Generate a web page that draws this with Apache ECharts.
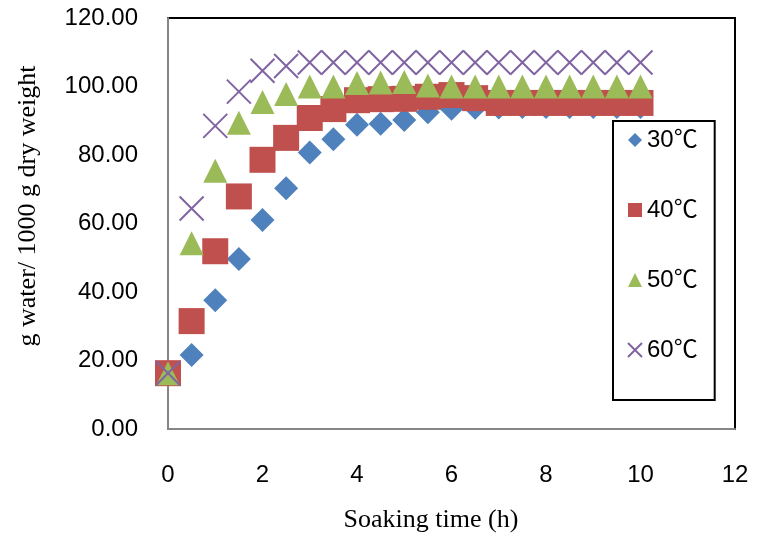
<!DOCTYPE html>
<html>
<head>
<meta charset="utf-8">
<script src="https://cdn.jsdelivr.net/npm/echarts@6/dist/echarts.min.js"></script>
<style>
html,body{margin:0;padding:0;background:#fff;}
#chart{width:757px;height:538px;}
</style>
</head>
<body>
<div id="chart"></div>
<script>
// Soaking time (h)
var times = [0, 0.5, 1, 1.5, 2, 2.5, 3, 3.5, 4, 4.5, 5, 5.5, 6, 6.5, 7, 7.5, 8, 8.5, 9, 9.5, 10];
var seriesNames = ['30℃', '40℃', '50℃', '60℃'];
var t30 = [16.3, 21.6, 37.6, 49.6, 61.0, 70.3, 80.7, 84.6, 88.8, 89.1, 90.2, 92.5, 93.5, 93.8, 93.9, 94.0, 94.0, 94.0, 94.0, 94.0, 94.0];
var t40 = [16.3, 31.5, 51.9, 67.9, 78.6, 85.0, 90.8, 93.4, 96.0, 96.3, 96.4, 97.0, 97.5, 96.6, 95.2, 95.2, 95.2, 95.2, 95.2, 95.2, 95.2];
var t50 = [16.3, 54.2, 75.4, 89.4, 95.5, 97.8, 100.0, 100.0, 101.0, 101.2, 101.3, 100.3, 100.0, 100.0, 100.0, 100.0, 100.0, 100.0, 100.0, 100.0, 100.0];
var t60 = [16.3, 64.4, 88.5, 98.5, 104.6, 106.0, 107.0, 107.0, 107.0, 107.0, 107.0, 107.0, 107.0, 107.0, 107.0, 107.0, 107.0, 107.0, 107.0, 107.0, 107.0];
var xTicks = [0, 2, 4, 6, 8, 10, 12];
var yTicks = [0, 20, 40, 60, 80, 100, 120];

function pairs(vals) {
  return times.map(function (t, i) { return [t, vals[i]]; });
}

var chart = echarts.init(document.getElementById('chart'), null, {renderer: 'canvas'});
var labelFont = '"Liberation Sans", Arial, "Noto Sans CJK SC", sans-serif';
var serifFont = '"Liberation Serif", "Times New Roman", serif';

var option = {
  backgroundColor: '#ffffff',
  animation: false,
  grid: {
    left: 168, top: 18, right: 22, bottom: 109,
    show: true, borderColor: '#000000', borderWidth: 2, backgroundColor: 'transparent'
  },
  xAxis: {
    type: 'value',
    min: xTicks[0], max: xTicks[xTicks.length - 1], interval: xTicks[1] - xTicks[0],
    axisLine: {show: true, lineStyle: {color: '#868686', width: 2}},
    axisTick: {show: false},
    splitLine: {show: false},
    axisLabel: {fontFamily: labelFont, fontSize: 24, color: '#000', margin: 34}
  },
  yAxis: {
    type: 'value',
    min: yTicks[0], max: yTicks[yTicks.length - 1], interval: yTicks[1] - yTicks[0],
    axisLine: {show: true, lineStyle: {color: '#868686', width: 2}},
    axisTick: {show: false},
    splitLine: {show: false},
    axisLabel: {fontFamily: labelFont, fontSize: 24, color: '#000', margin: 30,
      formatter: function (v) { return v.toFixed(2); }}
  },
  legend: {
    orient: 'vertical',
    left: 613, top: 121,
    padding: [7, 17, 38, 14],
    itemGap: 46,
    itemWidth: 14, itemHeight: 14,
    borderColor: '#000000', borderWidth: 2,
    backgroundColor: '#ffffff',
    textStyle: {fontFamily: labelFont, fontSize: 24, color: '#000'},
    data: seriesNames
  },
  graphic: [
    {type: 'text', x: 431, y: 520, style: {text: 'Soaking time (h)', font: '26px ' + serifFont, fill: '#000', textAlign: 'center', textVerticalAlign: 'middle'}},
    {type: 'text', x: 28, y: 206, rotation: Math.PI / 2, style: {text: 'g water/ 1000 g dry weight', font: '26px ' + serifFont, fill: '#000', textAlign: 'center', textVerticalAlign: 'middle'}}
  ],
  series: [
    {name: seriesNames[0], type: 'scatter', symbol: 'diamond', symbolSize: 24,
      itemStyle: {color: '#4F81BD', opacity: 1}, data: pairs(t30)},
    {name: seriesNames[1], type: 'scatter', symbol: 'rect', symbolSize: 26,
      itemStyle: {color: '#C0504D', opacity: 1}, data: pairs(t40)},
    {name: seriesNames[2], type: 'scatter', symbol: 'triangle', symbolSize: 24,
      itemStyle: {color: '#9BBB59', opacity: 1}, data: pairs(t50)},
    {name: seriesNames[3], type: 'scatter', symbol: 'path://M0,0L10,10M10,0L0,10', symbolSize: 24,
      itemStyle: {color: 'rgba(0,0,0,0)', borderColor: '#8064A2', borderWidth: 2, opacity: 1}, data: pairs(t60)}
  ]
};
chart.setOption(option);
</script>
</body>
</html>
